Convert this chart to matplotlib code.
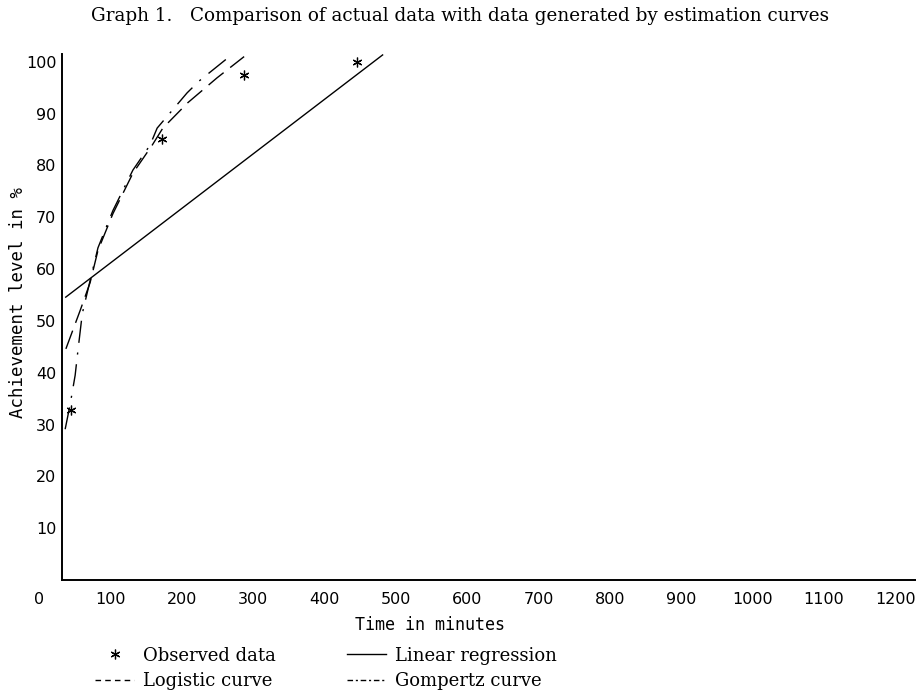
import matplotlib.pyplot as plt
from matplotlib.lines import Line2D

# values (time in minutes, achievement level in %)
obs_t = [44, 172, 287, 445]
obs_v = [32.9, 85.1, 97.5, 100.0]

linear_t = [36, 482]
linear_v = [54.5, 101.4]

logistic_t = [37, 47, 57, 71, 82, 103, 131, 158, 173, 208, 249, 287]
logistic_v = [44.6, 48.3, 52.0, 57.4, 63.6, 70.7, 78.5, 83.9, 87.2, 92.1, 96.9, 101.0]

gompertz_t = [36, 43, 50, 54, 60, 71, 82, 103, 131, 155, 165, 207, 224, 270]
gompertz_v = [29.1, 33.9, 39.5, 44.4, 51.4, 57.8, 64.1, 71.3, 79.1, 83.9, 87.2, 94.0, 96.3, 101.4]

x_ticks = list(range(0, 1300, 100))
y_ticks = list(range(10, 110, 10))

W, H = 916, 694
fig = plt.figure(figsize=(W / 100, H / 100), dpi=100)
ax = fig.add_axes([39.5 / W, 1 - 580 / H, (W - 39.5) / W, (580 - 54) / H])

ax.plot(linear_t, linear_v, color="black", lw=1.0, solid_capstyle="butt")
ax.plot(logistic_t, logistic_v, color="black", lw=1.0, dashes=(14, 6))
ax.plot(gompertz_t, gompertz_v, color="black", lw=1.0, dashes=(16, 7, 1.5, 7))
ax.plot(obs_t, obs_v, ls="none", marker=(6, 2, 0), ms=7, mew=0.9, color="black")

ax.set_xlim(0, (W - 39.5) / 0.713)
ax.set_ylim(0, 101.5)

# axes as drawn in the original: y axis sits at about 31 min
ax.spines["top"].set_visible(False)
ax.spines["right"].set_visible(False)
ax.spines["left"].set_position(("data", 31.5))
ax.spines["left"].set_linewidth(1.4)
ax.spines["bottom"].set_linewidth(1.4)
ax.spines["bottom"].set_bounds(31.5, (W - 39.5) / 0.713)

ax.set_xticks(x_ticks)
ax.set_yticks(y_ticks)
ax.tick_params(length=0, labelsize=11.5)
ax.tick_params(axis="x", pad=9)
ax.tick_params(axis="y", pad=4)

ax.set_xlabel("Time in minutes", family="DejaVu Sans Mono", fontsize=12, va="center")
ax.xaxis.set_label_coords((430 - 39.5) / (W - 39.5), (580 - 625) / 526)
ax.set_ylabel("Achievement level in %", family="DejaVu Sans Mono", fontsize=12.5, va="center")
ax.yaxis.set_label_coords((18 - 39.5) / (W - 39.5), (580 - 303) / 526)

fig.text(0.502, 1 - 16 / H,
         "Graph 1.   Comparison of actual data with data generated by estimation curves",
         ha="center", va="center", family="DejaVu Serif", fontsize=13.2)

handles = [
    Line2D([], [], ls="none", marker=(6, 2, 0), ms=7, mew=0.9, color="black"),
    Line2D([], [], color="black", lw=1.0, dashes=(4, 3)),
    Line2D([], [], color="black", lw=1.0),
    Line2D([], [], color="black", lw=1.0, dashes=(4, 2, 1.5, 2)),
]
labels = ["Observed data", "Logistic curve", "Linear regression", "Gompertz curve"]
fig.legend(handles, labels, ncol=2, frameon=False,
           loc="upper left", bbox_to_anchor=(82 / W, 1 - 634 / H),
           prop={"family": "DejaVu Serif", "size": 13},
           handlelength=2.2, handletextpad=0.5, columnspacing=3.9,
           labelspacing=0.4, borderpad=0.2)

fig.savefig("out.png", dpi=100)
